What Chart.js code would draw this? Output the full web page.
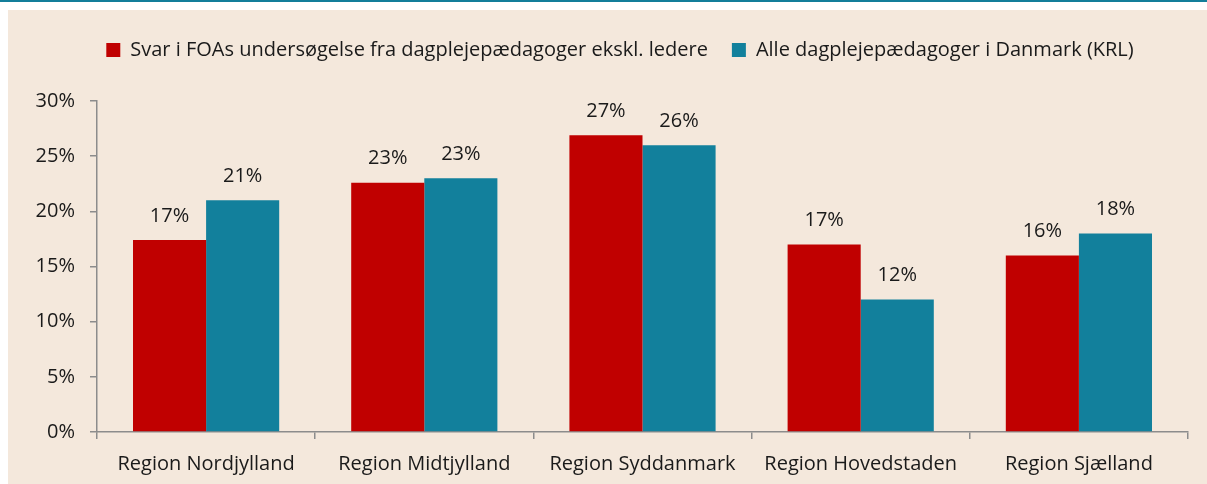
<!DOCTYPE html>
<html>
<head>
<meta charset="utf-8">
<script src="https://cdn.jsdelivr.net/npm/chart.js@4.4.1/dist/chart.umd.min.js"></script>
<style>
  html, body { margin: 0; padding: 0; background: #ffffff; }
  body { width: 1207px; height: 484px; position: relative; overflow: hidden; }
  #topline { position: absolute; left: 0; top: 0; width: 1207px; height: 2px; background: #137e9a; }
  #panel { position: absolute; left: 8px; top: 10px; width: 1199px; height: 474px; background: #f4e8dc; }
</style>
</head>
<body>
<div id="topline"></div>
<div id="panel"><canvas id="canvas" width="1199" height="474"></canvas></div>
<script>
// data
const regions = ["Region Nordjylland", "Region Midtjylland", "Region Syddanmark", "Region Hovedstaden", "Region Sjælland"];
const foaValues = [17.4, 22.6, 26.9, 17.0, 16.0];
const krlValues = [21.0, 23.0, 26.0, 12.0, 18.0];
const seriesNames = ["Svar i FOAs undersøgelse fra dagplejepædagoger ekskl. ledere", "Alle dagplejepædagoger i Danmark (KRL)"];
const yTicks = [0, 5, 10, 15, 20, 25, 30];

const fontFamily = "'Open Sans', 'Noto Sans', sans-serif";
const fontSize = 20;
const textColor = "#1a1a1a";
const axisColor = "#8c8c8c";

// writes the rounded value above each bar
const valueLabels = {
  id: 'valueLabels',
  afterDatasetsDraw(chart) {
    const ctx = chart.ctx;
    ctx.save();
    ctx.font = fontSize + "px " + fontFamily;
    ctx.fillStyle = textColor;
    ctx.textAlign = "center";
    ctx.textBaseline = "bottom";
    chart.data.datasets.forEach((ds, i) => {
      chart.getDatasetMeta(i).data.forEach((bar, j) => {
        ctx.fillText(Math.round(ds.data[j]) + "%", bar.x, bar.y - 14);
      });
    });
    ctx.restore();
  }
};

// extra room under the legend, and move it a bit to the right
const legendGap = {
  id: 'legendGap',
  beforeInit(chart) {
    const fit = chart.legend.fit;
    chart.legend.fit = function () {
      fit.bind(chart.legend)();
      this.height += 31;
    };
  },
  afterLayout(chart) {
    chart.legend.left += 22;
    chart.legend.right += 22;
  }
};

new Chart(document.getElementById("canvas"), {
  type: 'bar',
  data: {
    labels: regions,
    datasets: [
      { label: seriesNames[0], data: foaValues, backgroundColor: "#c00000" },
      { label: seriesNames[1], data: krlValues, backgroundColor: "#12809c" }
    ]
  },
  options: {
    responsive: false,
    animation: false,
    datasets: { bar: { categoryPercentage: 0.67, barPercentage: 1.0 } },
    layout: { padding: { left: 0, right: 19, top: 6, bottom: 0 } },
    plugins: {
      legend: {
        display: true,
        position: 'top',
        labels: {
          boxWidth: 14,
          boxHeight: 14,
          padding: 24,
          color: textColor,
          font: { size: fontSize, family: fontFamily }
        }
      },
      tooltip: { enabled: false }
    },
    scales: {
      x: {
        grid: { display: true, drawOnChartArea: false, drawTicks: true, tickLength: 7, color: axisColor, lineWidth: 1.5, offset: true },
        border: { display: true, color: axisColor, width: 1.5 },
        ticks: { color: textColor, font: { size: fontSize, family: fontFamily }, padding: 13, maxRotation: 0 },
        afterFit(scale) { scale.height = 52; }
      },
      y: {
        min: 0,
        max: 30,
        afterBuildTicks(scale) { scale.ticks = yTicks.map(v => ({ value: v })); },
        grid: { display: true, drawOnChartArea: false, drawTicks: true, tickLength: 7, color: axisColor, lineWidth: 1.5 },
        border: { display: true, color: axisColor, width: 1.5 },
        ticks: { color: textColor, font: { size: fontSize, family: fontFamily }, padding: 15, callback: v => v + "%" },
        afterFit(scale) { scale.width = 89; }
      }
    }
  },
  plugins: [valueLabels, legendGap]
});
</script>
</body>
</html>
